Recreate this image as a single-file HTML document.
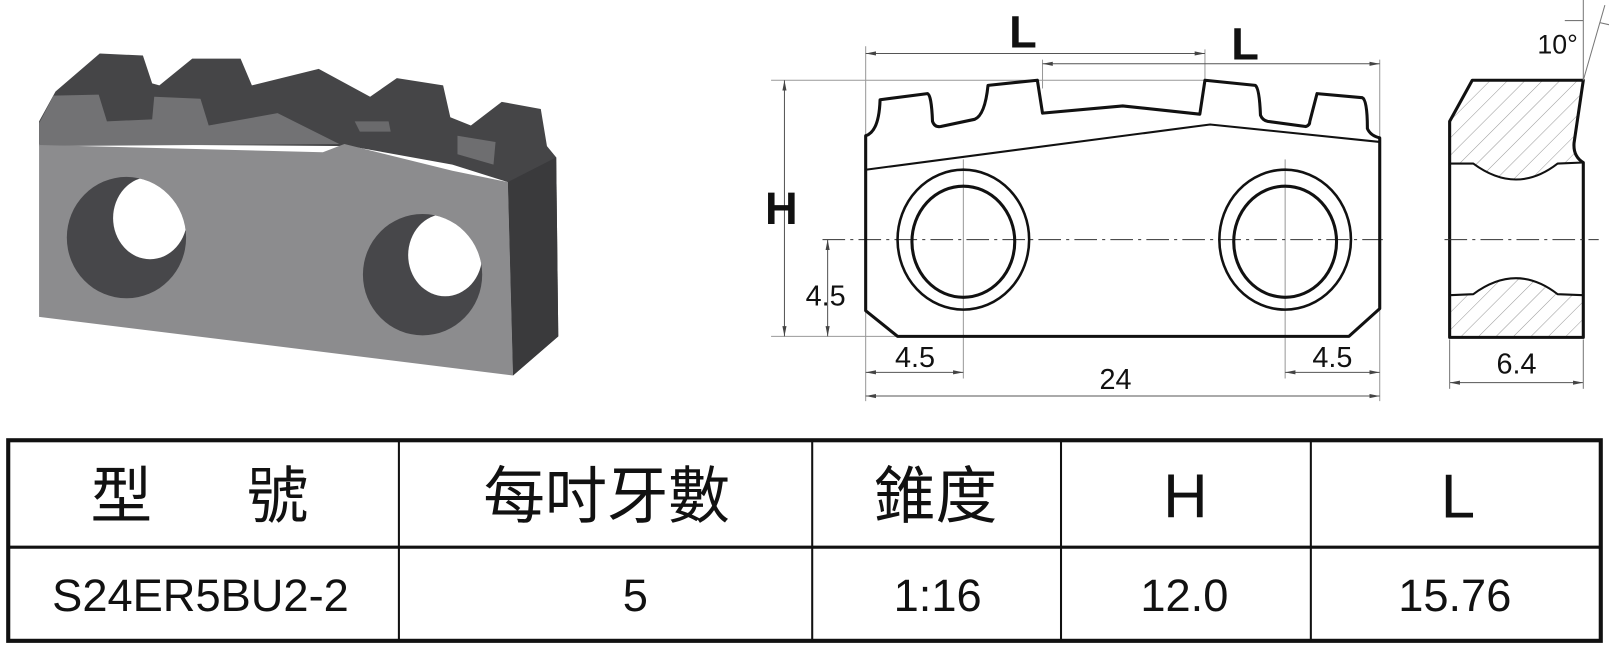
<!DOCTYPE html>
<html><head><meta charset="utf-8"><style>
html,body{margin:0;padding:0;background:#fff;width:1609px;height:647px;overflow:hidden}
svg{display:block}
text{font-family:"Liberation Sans","Noto Sans CJK TC",sans-serif;fill:#111}
</style></head><body>
<svg width="1609" height="647" viewBox="0 0 1565 629" preserveAspectRatio="none" xmlns="http://www.w3.org/2000/svg">
<defs>
<pattern id="h" width="12" height="12" patternUnits="userSpaceOnUse" patternTransform="rotate(45)">
<line x1="0" y1="0" x2="0" y2="12" stroke="#999" stroke-width="1"/></pattern>
<marker id="a" markerWidth="10" markerHeight="6" refX="10" refY="3" orient="auto-start-reverse"><path d="M0,1 L10,3 L0,5z" fill="#444"/></marker>
<clipPath id="c1"><ellipse cx="123" cy="231" rx="58" ry="59"/></clipPath>
<clipPath id="c2"><ellipse cx="411" cy="267" rx="58" ry="59"/></clipPath>
</defs>
<!-- 3D block -->
<polygon points="54,89 97,52 139,54 148,81 155,83 187,57 234,57 245,83 310,67 360,94 386,76 431,83 438,114 458,122 488,99 526,106 532,142 541,153 543,327 499,365 494,177 440,160 340,142 38,140 38,118" fill="#454547"/>
<polygon points="38,120 52,93 96,92 104,118 148,116 150,94 195,96 203,122 270,110 330,140 38,142" fill="#727274"/>
<polygon points="345,118 378,118 380,128 350,128" fill="#6a6a6c"/>
<polygon points="445,132 482,138 480,160 445,150" fill="#6e6e70"/>
<polygon points="38,141 314,148 335,140 440,166 494,177 499,365 38,308" fill="#8c8c8e"/>
<polygon points="494,177 541,153 543,327 499,365" fill="#3a3a3c"/>
<ellipse cx="123" cy="231" rx="58" ry="59" fill="#47474a"/>
<ellipse cx="146" cy="212" rx="36" ry="40" fill="#fff" clip-path="url(#c1)"/>
<ellipse cx="411" cy="267" rx="58" ry="59" fill="#47474a"/>
<ellipse cx="433" cy="248" rx="36" ry="40" fill="#fff" clip-path="url(#c2)"/>
<!-- front view -->
<g fill="none" stroke="#999" stroke-width="1">
<line x1="842" y1="45" x2="842" y2="390"/><line x1="1172" y1="48" x2="1172" y2="78"/>
<line x1="1014" y1="58" x2="1014" y2="86"/><line x1="1342" y1="58" x2="1342" y2="390"/>
<line x1="750" y1="78" x2="1175" y2="78"/><line x1="750" y1="327" x2="873" y2="327"/>
<line x1="937" y1="155" x2="937" y2="368"/><line x1="1250" y1="155" x2="1250" y2="368"/>
</g>
<g stroke="#555" stroke-width="1" marker-start="url(#a)" marker-end="url(#a)">
<line x1="842" y1="52" x2="1172" y2="52"/><line x1="1014" y1="62" x2="1342" y2="62"/>
<line x1="763" y1="78" x2="763" y2="327"/><line x1="805" y1="233" x2="805" y2="327"/>
<line x1="842" y1="362" x2="937" y2="362"/><line x1="1250" y1="362" x2="1342" y2="362"/>
<line x1="842" y1="385" x2="1342" y2="385"/>
<line x1="1410" y1="372" x2="1540" y2="372"/>
</g>
<line x1="800" y1="233" x2="1345" y2="233" stroke="#333" stroke-width="1" stroke-dasharray="22,5,3,5"/>
<g fill="none" stroke="#111" stroke-width="3" stroke-linejoin="round">
<path d="M842,132 Q855,128 856,97 L902,91 Q906,92 907,118 Q909,124 915,123 L948,116 Q958,112 961,83 L1009,78 L1014,110 L1092,103 L1167,111 L1172,78 L1221,83 Q1225,86 1226,112 Q1228,117 1233,118 L1270,123 Q1274,122 1274,118 L1281,91 L1325,95 Q1330,97 1330,125 Q1333,132 1342,134 L1342,300 L1312,327 L873,327 L842,302 Z"/>
<path d="M842,165 L1177,121 L1342,138" stroke-width="2"/>
<ellipse cx="937" cy="233" rx="64" ry="68" stroke-width="2.5"/>
<ellipse cx="937" cy="235" rx="50" ry="54"/>
<ellipse cx="1250" cy="233" rx="64" ry="68" stroke-width="2.5"/>
<ellipse cx="1250" cy="235" rx="50" ry="54"/>
</g>
<!-- side view -->
<path d="M1432,78 L1540,78 L1531,139 Q1530,152 1540,158 Q1520,159 1515,160 Q1475,190 1433,160 L1410,159 L1410,118 Z" fill="url(#h)"/>
<path d="M1410,287 L1433,287 Q1475,255 1515,287 L1540,287 L1540,328 L1410,328 Z" fill="url(#h)"/>
<g fill="none" stroke="#111" stroke-width="3" stroke-linejoin="round">
<path d="M1432,78 L1540,78 L1531,139 Q1530,152 1540,158 L1540,328 L1410,328 L1410,118 Z"/>
<path d="M1410,159 L1433,159 Q1475,190 1515,159 L1540,158" stroke-width="2"/>
<path d="M1410,287 L1433,286 Q1475,255 1515,286 L1540,287" stroke-width="2"/>
</g>
<line x1="1405" y1="233" x2="1555" y2="233" stroke="#333" stroke-dasharray="22,5,3,5"/>
<g stroke="#777" stroke-width="1"><line x1="1540" y1="0" x2="1540" y2="78"/><line x1="1540" y1="78" x2="1561" y2="5"/>
<line x1="1410" y1="330" x2="1410" y2="378"/><line x1="1540" y1="330" x2="1540" y2="378"/>
<line x1="1522" y1="20" x2="1540" y2="20"/><line x1="1556" y1="22" x2="1565" y2="24"/></g>
<text x="1515" y="52" font-size="26" text-anchor="middle">10°</text>
<text x="1475" y="363" font-size="28" text-anchor="middle">6.4</text>
<g font-size="44" text-anchor="middle" font-weight="bold">
<text x="995" y="46">L</text><text x="1211" y="58">L</text><text x="760" y="218">H</text></g>
<g font-size="28" text-anchor="middle">
<text x="803" y="297">4.5</text><text x="890" y="357">4.5</text><text x="1296" y="357">4.5</text><text x="1085" y="378">24</text></g>
<!-- table -->
<g stroke="#111" fill="none">
<rect x="8" y="428" width="1549" height="195" stroke-width="4"/>
<line x1="8" y1="532" x2="1557" y2="532" stroke-width="3"/>
<line x1="388" y1="428" x2="388" y2="623" stroke-width="2"/>
<line x1="790" y1="428" x2="790" y2="623" stroke-width="2"/>
<line x1="1032" y1="428" x2="1032" y2="623" stroke-width="2"/>
<line x1="1275" y1="428" x2="1275" y2="623" stroke-width="2"/>
</g>
<g font-size="60" text-anchor="middle">
<text x="118" y="503">型</text><text x="270" y="503">號</text>
<text x="590" y="503">每吋牙數</text><text x="910" y="503">錐度</text>
<text x="1153" y="503">H</text><text x="1418" y="503">L</text></g>
<g font-size="44" text-anchor="middle">
<text x="195" y="594">S24ER5BU2-2</text><text x="618" y="594">5</text>
<text x="912" y="594">1:16</text><text x="1152" y="594">12.0</text><text x="1415" y="594">15.76</text></g>
</svg>
</body></html>
